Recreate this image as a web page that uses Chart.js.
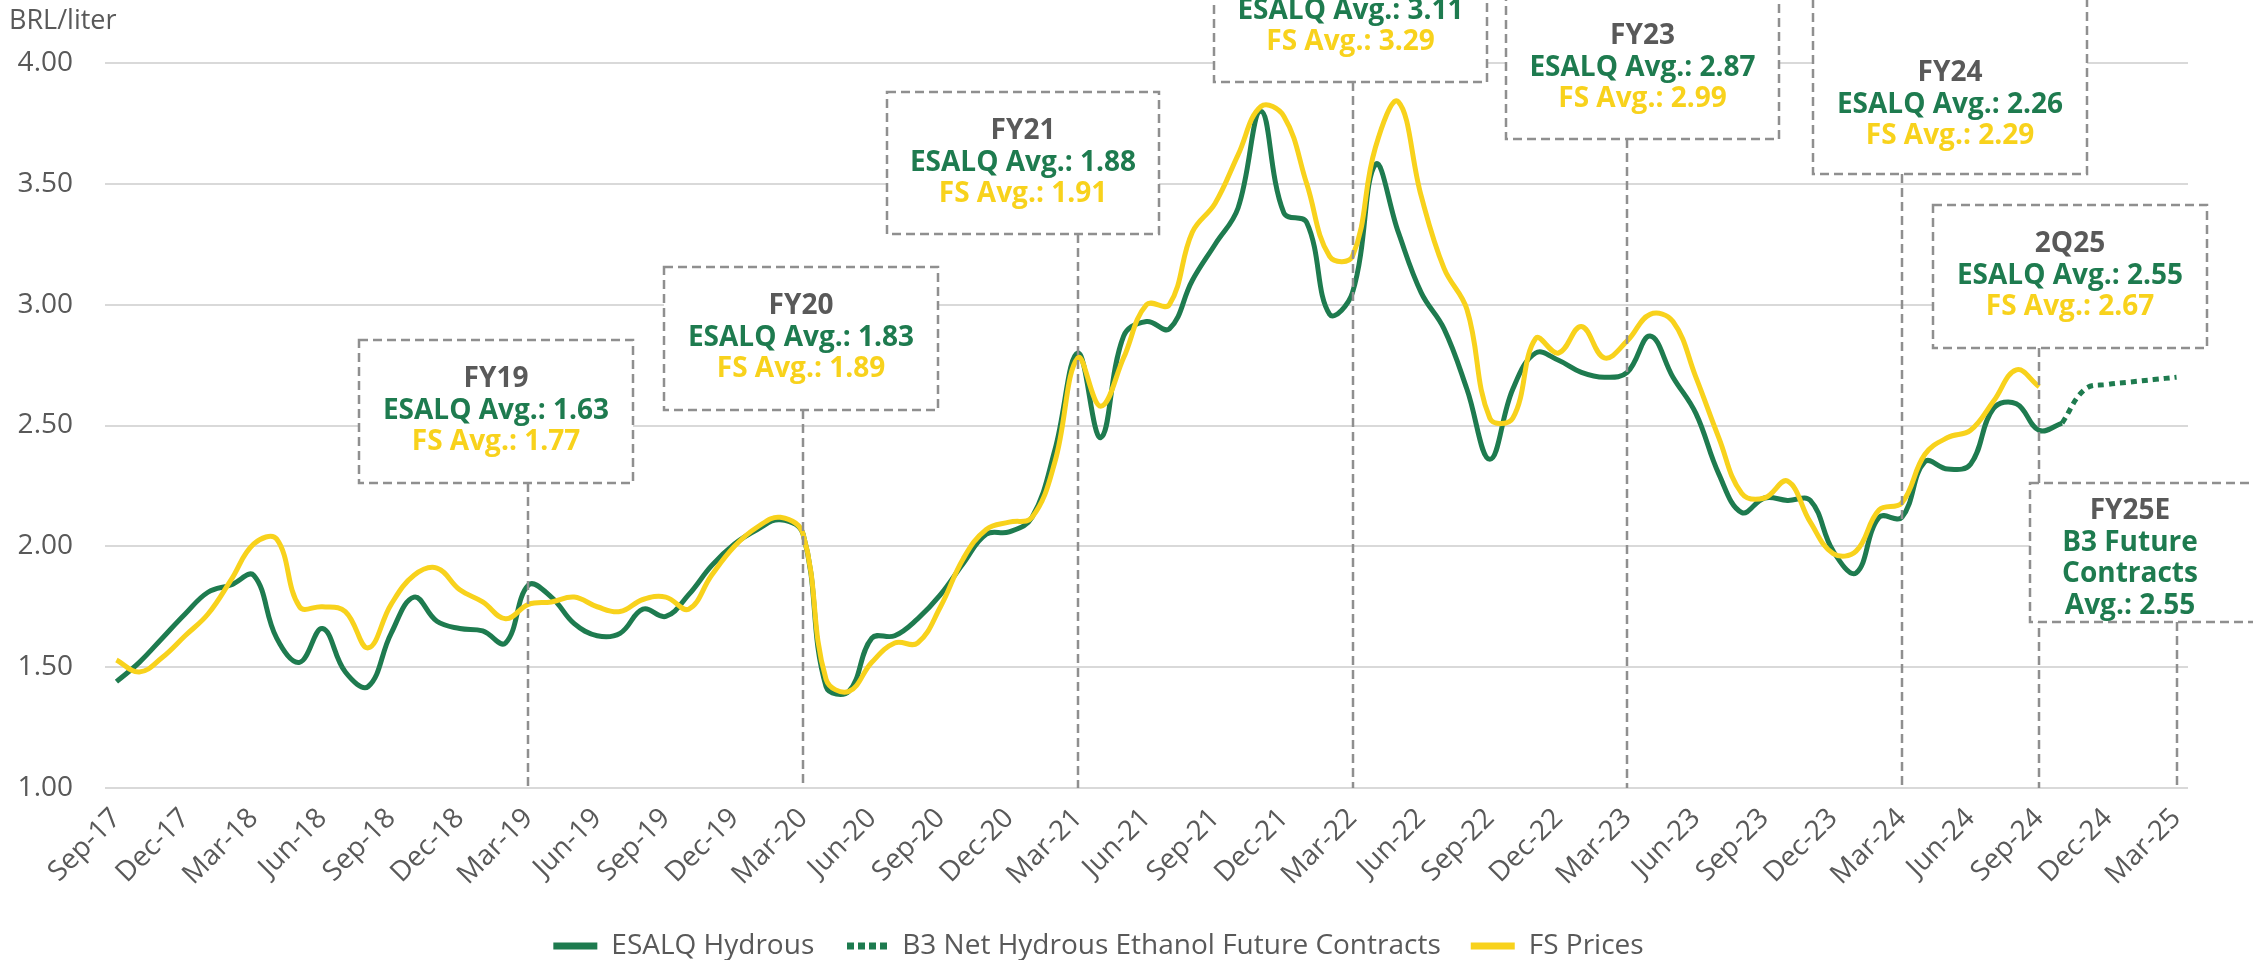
<!DOCTYPE html>
<html>
<head>
<meta charset="utf-8">
<script src="https://cdn.jsdelivr.net/npm/chart.js@4.4.1/dist/chart.umd.min.js"></script>
<style>
  html, body { margin: 0; padding: 0; background: #fff; }
  #wrap { width: 2253px; height: 960px; }
</style>
</head>
<body>
<div id="wrap"><canvas id="line-chart"></canvas></div>
<script>
const months = [
  'Sep-17','Oct-17','Nov-17','Dec-17',
  'Jan-18','Feb-18','Mar-18','Apr-18','May-18','Jun-18','Jul-18','Aug-18','Sep-18','Oct-18','Nov-18','Dec-18',
  'Jan-19','Feb-19','Mar-19','Apr-19','May-19','Jun-19','Jul-19','Aug-19','Sep-19','Oct-19','Nov-19','Dec-19',
  'Jan-20','Feb-20','Mar-20','Apr-20','May-20','Jun-20','Jul-20','Aug-20','Sep-20','Oct-20','Nov-20','Dec-20',
  'Jan-21','Feb-21','Mar-21','Apr-21','May-21','Jun-21','Jul-21','Aug-21','Sep-21','Oct-21','Nov-21','Dec-21',
  'Jan-22','Feb-22','Mar-22','Apr-22','May-22','Jun-22','Jul-22','Aug-22','Sep-22','Oct-22','Nov-22','Dec-22',
  'Jan-23','Feb-23','Mar-23','Apr-23','May-23','Jun-23','Jul-23','Aug-23','Sep-23','Oct-23','Nov-23','Dec-23',
  'Jan-24','Feb-24','Mar-24','Apr-24','May-24','Jun-24','Jul-24','Aug-24','Sep-24','Oct-24','Nov-24','Dec-24',
  'Jan-25','Feb-25','Mar-25'
];

// ESALQ hydrous, Sep-17 .. Oct-24
const esalq = [
  1.44, 1.52, 1.62, 1.72, 1.81, 1.84, 1.88, 1.62, 1.52, 1.66,
  1.48, 1.42, 1.64, 1.79, 1.69, 1.66, 1.65, 1.60, 1.84, 1.79,
  1.68, 1.63, 1.64, 1.74, 1.71, 1.80, 1.92, 2.01, 2.07, 2.11,
  2.05, 1.42, 1.40, 1.62, 1.63, 1.70, 1.80, 1.93, 2.05, 2.06,
  2.12, 2.40, 2.80, 2.45, 2.87, 2.93, 2.90, 3.10, 3.25, 3.40,
  3.80, 3.38, 3.34, 2.96, 3.05, 3.58, 3.30, 3.05, 2.90, 2.65,
  2.36, 2.65, 2.80, 2.77, 2.72, 2.70, 2.72, 2.87, 2.70, 2.55,
  2.30, 2.14, 2.20, 2.19, 2.19, 1.98, 1.89, 2.12, 2.12, 2.35,
  2.32, 2.34, 2.57, 2.59, 2.48, 2.51
];

// B3 futures, Oct-24 .. Mar-25
const b3Start = 'Oct-24';
const b3Futures = [2.51, 2.65, 2.67, 2.68, 2.69, 2.70];

// FS prices, Sep-17 .. Sep-24
const fsPrices = [
  1.53, 1.48, 1.54, 1.63, 1.72, 1.86, 2.01, 2.03, 1.75, 1.75,
  1.73, 1.58, 1.76, 1.88, 1.91, 1.82, 1.77, 1.70, 1.76, 1.77,
  1.79, 1.75, 1.73, 1.78, 1.79, 1.74, 1.88, 2.00, 2.08, 2.12,
  2.05, 1.45, 1.40, 1.52, 1.60, 1.60, 1.75, 1.95, 2.07, 2.10,
  2.12, 2.35, 2.78, 2.58, 2.78, 3.00, 3.00, 3.30, 3.42, 3.62,
  3.82, 3.78, 3.50, 3.20, 3.20, 3.65, 3.84, 3.45, 3.15, 2.98,
  2.53, 2.53, 2.86, 2.80, 2.91, 2.78, 2.85, 2.96, 2.93, 2.70,
  2.45, 2.22, 2.20, 2.27, 2.10, 1.97, 1.98, 2.15, 2.18, 2.38,
  2.45, 2.48, 2.60, 2.73, 2.66
];

// period annotations
const noteMonths = ['Mar-19', 'Mar-20', 'Mar-21', 'Mar-22', 'Mar-23', 'Mar-24', 'Sep-24'];
const noteTitles = ['FY19', 'FY20', 'FY21', 'FY22', 'FY23', 'FY24', '2Q25'];
const esalqAvg = ['1.63', '1.83', '1.88', '3.11', '2.87', '2.26', '2.55'];
const fsAvg = ['1.77', '1.89', '1.91', '3.29', '2.99', '2.29', '2.67'];
const futureMonth = 'Mar-25';
const futureLines = ['FY25E', 'B3 Future', 'Contracts', 'Avg.: 2.55'];

const GREEN = '#1e7b4f';
const YELLOW = '#f8d21c';
const GREY_TXT = '#595959';
const DASH_GREY = '#8f8f8f';
const FONT = '"Open Sans", "Noto Sans", sans-serif';

// box layout [left, top, width, height, middle text line y] in canvas px
const boxLayout = [
  [359, 340, 274, 143, 411],
  [664, 267, 274, 143, 338],
  [887, 92, 272, 142, 163],
  [1214, -60, 273, 142, 11],
  [1506, -3, 273, 142, 68],
  [1813, -8, 274, 182, 105],
  [1933, 205, 274, 143, 276]
];
const futureBox = [2030, 483, 240, 139];

const idx = m => months.indexOf(m);
const pad = (arr, from, len) => {
  const out = new Array(len).fill(null);
  arr.forEach((v, i) => { out[from + i] = v; });
  return out;
};

function dotPattern(ctx) {
  const c = document.createElement('canvas');
  c.width = 11; c.height = 7;
  const g = c.getContext('2d');
  g.fillStyle = GREEN;
  g.fillRect(0, 0, 7, 7);
  return ctx.createPattern(c, 'repeat');
}

const notesPlugin = {
  id: 'fyNotes',
  afterDatasetsDraw(chart) {
    const ctx = chart.ctx;
    const xs = chart.scales.x;
    const bottom = chart.chartArea.bottom;
    ctx.save();
    ctx.strokeStyle = DASH_GREY;
    ctx.lineWidth = 2.5;
    ctx.setLineDash([9, 5]);

    // leader lines
    noteMonths.forEach((m, i) => {
      const px = Math.round(xs.getPixelForValue(idx(m)));
      const b = boxLayout[i];
      ctx.beginPath();
      ctx.moveTo(px, b[1] + b[3]);
      ctx.lineTo(px, bottom);
      ctx.stroke();
    });
    const fx = Math.round(xs.getPixelForValue(idx(futureMonth)));
    ctx.beginPath();
    ctx.moveTo(fx, futureBox[1] + futureBox[3]);
    ctx.lineTo(fx, bottom);
    ctx.stroke();

    const drawBox = b => {
      ctx.fillStyle = '#fff';
      ctx.fillRect(b[0], b[1], b[2], b[3]);
      ctx.strokeRect(b[0], b[1], b[2], b[3]);
    };

    ctx.textAlign = 'center';
    ctx.textBaseline = 'middle';
    ctx.font = 'bold 28px ' + FONT;

    noteMonths.forEach((m, i) => {
      const b = boxLayout[i];
      drawBox(b);
      const cx = b[0] + b[2] / 2;
      const cy = b[4];
      ctx.fillStyle = GREY_TXT;
      ctx.fillText(noteTitles[i], cx, cy - 32);
      ctx.fillStyle = GREEN;
      ctx.fillText('ESALQ Avg.: ' + esalqAvg[i], cx, cy);
      ctx.fillStyle = YELLOW;
      ctx.fillText('FS Avg.: ' + fsAvg[i], cx, cy + 31);
    });

    drawBox(futureBox);
    const fcx = futureBox[0] + 100;
    futureLines.forEach((t, i) => {
      ctx.fillStyle = i === 0 ? GREY_TXT : GREEN;
      ctx.fillText(t, fcx, futureBox[1] + 28 + i * 31.7);
    });
    ctx.restore();
  }
};

const n = months.length;

new Chart(document.getElementById('line-chart'), {
  type: 'line',
  data: {
    labels: months,
    datasets: [{
        label: 'ESALQ Hydrous',
        data: pad(esalq, 0, n),
        borderColor: GREEN,
        backgroundColor: GREEN,
        borderWidth: 5,
        order: 1
      }, {
        label: 'B3 Net Hydrous Ethanol Future Contracts',
        data: pad(b3Futures, idx(b3Start), n),
        borderColor: GREEN,
        backgroundColor: GREEN,
        borderWidth: 5,
        borderDash: [6, 5],
        order: 2
      }, {
        label: 'FS Prices',
        data: pad(fsPrices, 0, n),
        borderColor: YELLOW,
        backgroundColor: YELLOW,
        borderWidth: 5,
        order: 0
      }
    ]
  },
  options: {
    responsive: true,
    maintainAspectRatio: false,
    animation: false,
    devicePixelRatio: 1,
    spanGaps: false,
    elements: {
      point: { radius: 0, hoverRadius: 0 },
      line: { tension: 0.4, borderCapStyle: 'butt' }
    },
    layout: { padding: { top: 0, right: 65, left: 9, bottom: -10 } },
    scales: {
      x: {
        offset: true,
        grid: { display: false },
        border: { display: false },
        ticks: {
          autoSkip: false,
          minRotation: 45,
          maxRotation: 45,
          padding: 6,
          color: GREY_TXT,
          font: { family: FONT, size: 28 },
          callback: function (value, index) {
            return index % 3 === 0 ? this.getLabelForValue(value) : '';
          }
        },
        afterFit: s => { s.height = 114; }
      },
      y: {
        min: 1,
        max: 4,
        grid: { color: '#d9d9d9', lineWidth: 2, drawTicks: false },
        border: { display: false },
        ticks: {
          stepSize: 0.5,
          padding: 32,
          color: GREY_TXT,
          font: { family: FONT, size: 28 },
          callback: v => v.toFixed(2)
        },
        afterFit: s => { s.width = 96; }
      }
    },
    plugins: {
      title: {
        display: true,
        text: 'BRL/liter',
        align: 'start',
        color: GREY_TXT,
        font: { family: FONT, size: 27, weight: 'normal' },
        padding: { top: 5, bottom: 25.6 }
      },
      legend: {
        position: 'bottom',
        labels: {
          boxWidth: 44,
          boxHeight: 7,
          padding: 30,
          color: GREY_TXT,
          font: { family: FONT, size: 28 },
          generateLabels: chart => chart.data.datasets.map((ds, i) => ({
            text: ds.label,
            fillStyle: ds.borderDash ? dotPattern(chart.ctx) : ds.borderColor,
            strokeStyle: 'rgba(0,0,0,0)',
            lineWidth: 0,
            hidden: false,
            datasetIndex: i,
            fontColor: GREY_TXT
          }))
        }
      },
      tooltip: { enabled: false }
    }
  },
  plugins: [notesPlugin]
});
</script>
</body>
</html>
